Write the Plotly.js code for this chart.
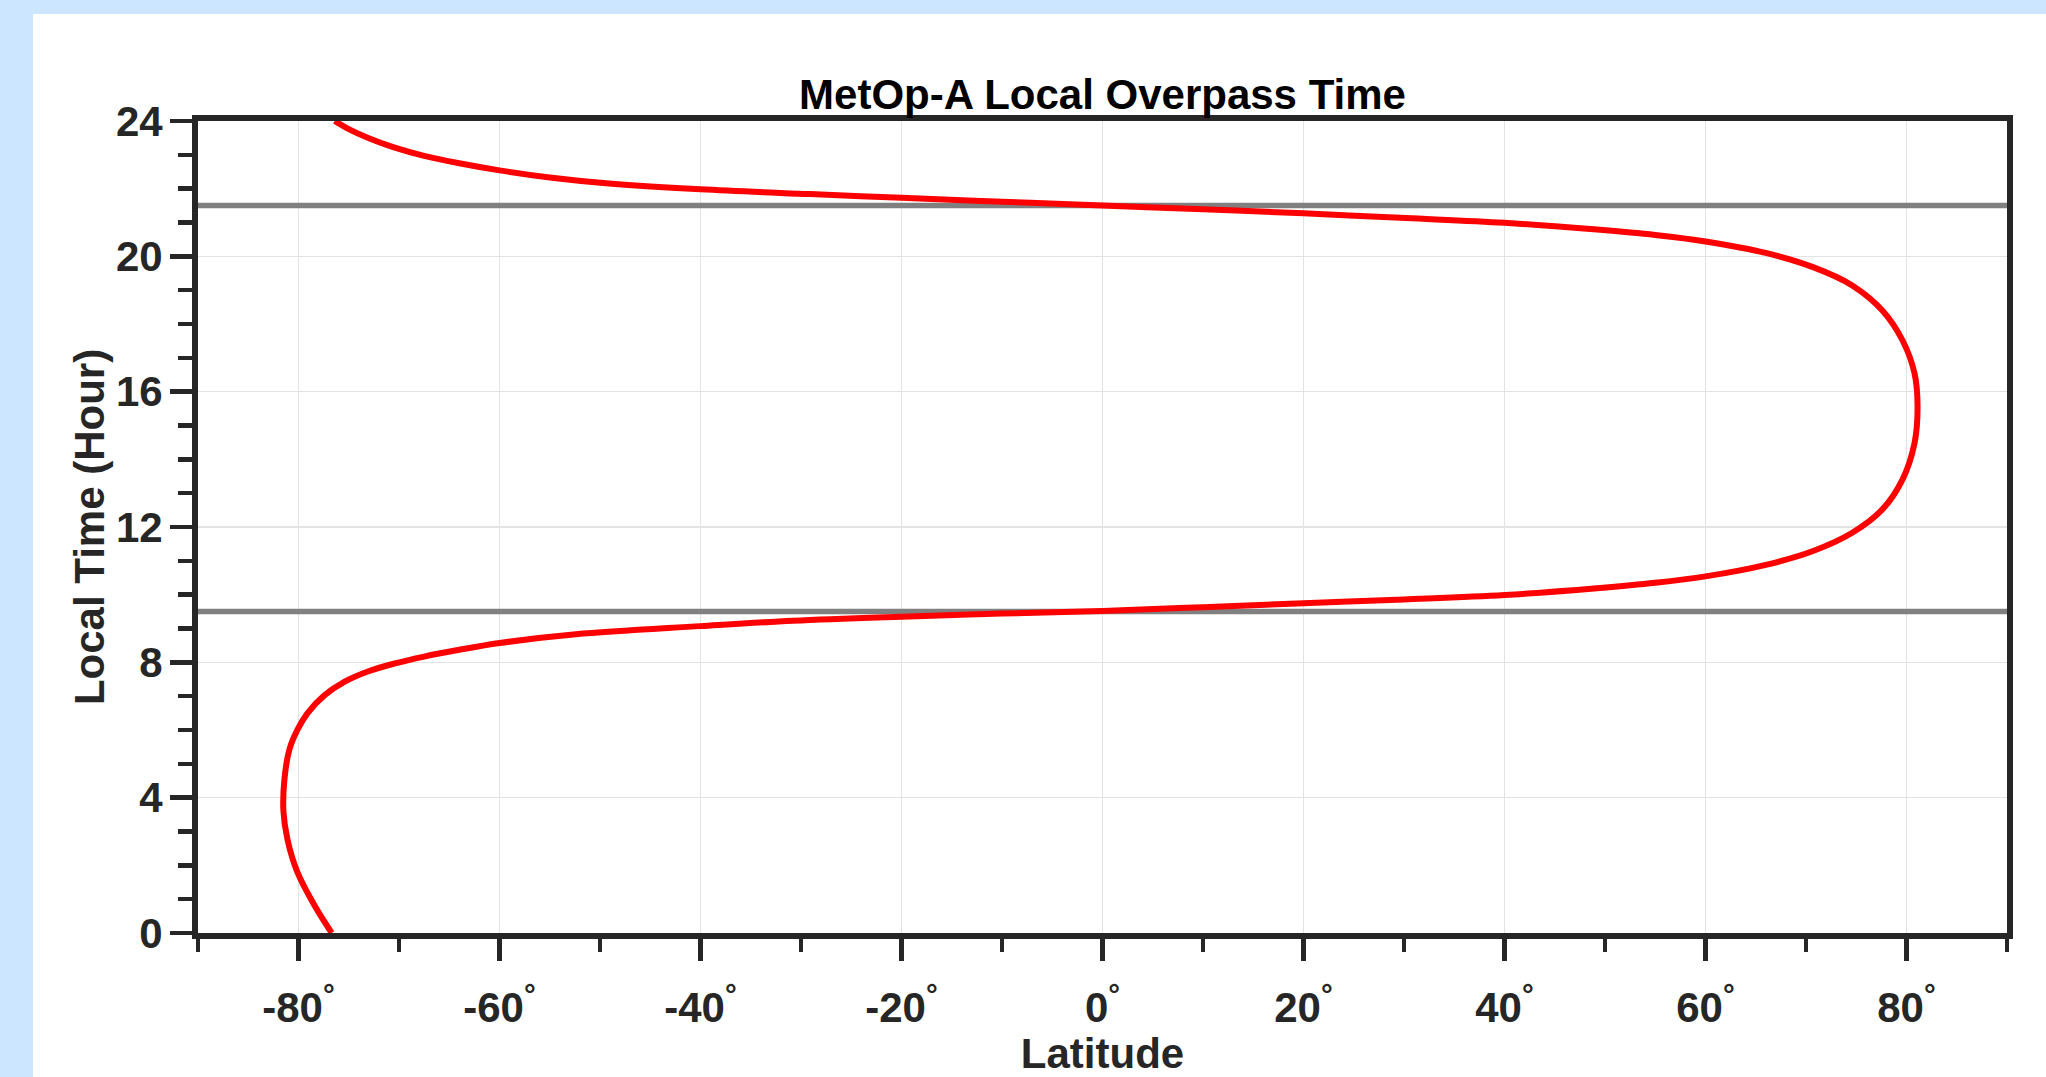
<!DOCTYPE html>
<html>
<head>
<meta charset="utf-8">
<script src="https://cdn.plot.ly/plotly-3.0.1.min.js"></script>
<style>
  html, body { margin: 0; padding: 0; background: #cce6ff; width: 2046px; height: 1077px; overflow: hidden; }
  #panel { position: absolute; left: 33px; top: 14px; width: 2013px; height: 1063px; background: #ffffff; }
  #chart { width: 2013px; height: 1063px; }
</style>
</head>
<body>
<div id="panel"><div id="chart"></div></div>
<script>
// Local time (hour) along the track and the latitude reached at that time
const hours = [0.00, 0.81, 1.79, 2.77, 3.60, 4.54, 5.43, 6.01, 6.50, 7.03, 7.43, 7.73, 7.96, 8.17, 8.37, 8.57, 8.83, 9.07, 9.23, 9.35, 9.44, 9.52,
               9.63, 9.75, 9.86, 9.99, 10.19, 10.35, 10.54, 10.88, 11.29, 11.83, 12.52, 13.40, 14.48, 15.56, 16.54, 17.52, 18.40, 19.14, 19.68,
               20.10, 20.44, 20.63, 20.79, 20.99, 21.13, 21.27, 21.39, 21.50, 21.615, 21.73, 21.84, 21.98, 22.16, 22.33, 22.54, 22.75, 22.97, 23.22, 23.49, 23.76, 24.00];
const lats  = [-76.7, -78.4, -80.1, -81.1, -81.5, -81.4, -80.9, -80.1, -79.1, -77.4, -75.4, -73.1, -70.5, -67.5, -64.0, -60.0, -52.4, -40.0, -30.8, -20.0, -10.0, 0.0,
               10.0, 20.0, 30.0, 40.0, 49.2, 55.0, 60.0, 66.0, 70.7, 74.6, 77.6, 79.6, 80.8, 81.1, 80.8, 79.6, 77.6, 74.6, 70.7,
               66.0, 60.0, 55.0, 49.2, 40.0, 30.2, 20.0, 10.0, 0.0, -10.0, -20.0, -29.1, -40.0, -49.4, -55.0, -60.0, -64.0, -67.5, -70.5, -73.0, -75.0, -76.4];
// Equator crossing times (reference lines)
const refHours = [9.5, 21.5];
const latRange = [-90, 90];

const xTickVals = [-80, -60, -40, -20, 0, 20, 40, 60, 80];
const xTickText = xTickVals.map(v => v + '<sup>°</sup>');
const xMinorVals = [-90, -70, -50, -30, -10, 10, 30, 50, 70, 90];
const yTickVals = [0, 4, 8, 12, 16, 20, 24];
const yTickText = yTickVals.map(String);

const axisColor = '#262626';
const fontFam = '"Liberation Sans", Arial, Helvetica, sans-serif';

const traces = refHours.map(h => ({
  x: latRange, y: [h, h], mode: 'lines', type: 'scatter',
  line: { color: '#808080', width: 5.5 }, hoverinfo: 'skip', showlegend: false
}));
traces.push({
  x: lats, y: hours, mode: 'lines', type: 'scatter',
  line: { color: '#ff0000', width: 6, shape: 'spline', smoothing: 1.0 },
  showlegend: false, name: 'MetOp-A'
});

const layout = {
  width: 2013, height: 1063,
  paper_bgcolor: '#ffffff', plot_bgcolor: '#ffffff',
  margin: { l: 165, r: 39, t: 107, b: 144, pad: 0 },
  showlegend: false,
  font: { family: fontFam, color: axisColor },
  title: {
    text: 'MetOp-A Local Overpass Time',
    font: { family: fontFam, size: 42, color: '#000000', weight: 'bold' },
    x: 0.5, xref: 'paper', xanchor: 'center',
    y: 1, yref: 'paper', yanchor: 'bottom', pad: { b: 12 }
  },
  xaxis: {
    range: latRange, autorange: false,
    tickmode: 'array', tickvals: xTickVals, ticktext: xTickText,
    ticks: 'outside', ticklen: 22, tickwidth: 4.5, tickcolor: axisColor,
    tickfont: { family: fontFam, size: 42, color: axisColor, weight: 'bold' },
    ticklabelstandoff: 11,
    minor: { tickmode: 'array', tickvals: xMinorVals, ticks: 'outside', ticklen: 13, tickwidth: 4.5, tickcolor: axisColor, showgrid: false },
    showgrid: true, gridcolor: '#e3e3e3', gridwidth: 1.5,
    showline: true, linecolor: axisColor, linewidth: 6, mirror: true,
    zeroline: false,
    title: { text: 'Latitude', font: { family: fontFam, size: 42, color: axisColor, weight: 'bold' }, standoff: 12 }
  },
  yaxis: {
    range: [0, 24], autorange: false,
    tickmode: 'array', tickvals: yTickVals, ticktext: yTickText,
    ticks: 'outside', ticklen: 22, tickwidth: 4.5, tickcolor: axisColor,
    tickfont: { family: fontFam, size: 42, color: axisColor, weight: 'bold' },
    ticklabelstandoff: -1,
    minor: { dtick: 1, tick0: 0, ticks: 'outside', ticklen: 14, tickwidth: 4.5, tickcolor: axisColor, showgrid: false },
    showgrid: true, gridcolor: '#e3e3e3', gridwidth: 1.5,
    showline: true, linecolor: axisColor, linewidth: 6, mirror: true,
    zeroline: false,
    title: { text: 'Local Time (Hour)', font: { family: fontFam, size: 42, color: axisColor, weight: 'bold' }, standoff: 0 }
  }
};

Plotly.newPlot('chart', traces, layout, { staticPlot: true, displayModeBar: false });
</script>
</body>
</html>
